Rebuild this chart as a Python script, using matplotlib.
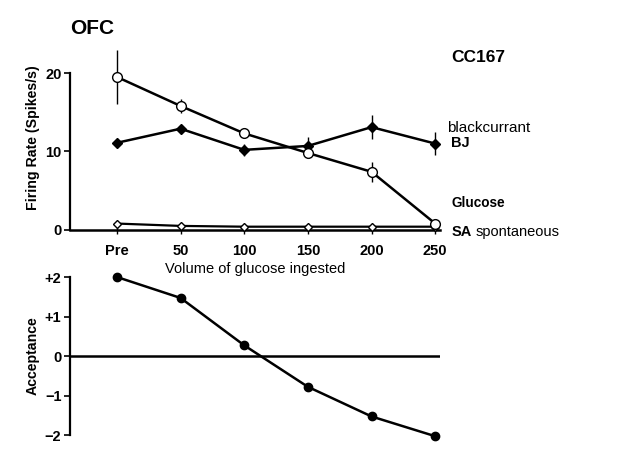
import numpy as np
import matplotlib.pyplot as plt

plt.rcParams['font.family'] = ['Liberation Sans', 'DejaVu Sans']

# data
volumes = ['Pre', '50', '100', '150', '200', '250']
glucose = [19.5, 15.8, 12.3, 9.8, 7.4, 0.8]
glucose_err = [3.4, 0.9, 0.5, 0.6, 1.3, 0.6]
bj = [11.1, 12.9, 10.2, 10.7, 13.1, 11.0]
bj_err = [0.5, 0.5, 0.8, 1.2, 1.5, 1.5]
spont = [0.8, 0.5, 0.4, 0.4, 0.4, 0.4]
acceptance = [2.0, 1.47, 0.27, -0.78, -1.53, -2.03]

x = np.arange(len(volumes))

fig = plt.figure(figsize=(6.29, 4.70), dpi=100)

# top panel: firing rate
ax1 = fig.add_axes([0.111, 0.511, 0.589, 0.392])
ax1.plot(x, spont, color='k', lw=1.6, marker='D', ms=4.5, mfc='white', mec='k', mew=1.0, zorder=3, clip_on=False)
ax1.errorbar(x, bj, yerr=bj_err, color='k', lw=1.8, marker='D', ms=5.5, mfc='k', mec='k',
             elinewidth=1.0, capsize=0, zorder=4, clip_on=False)
ax1.errorbar(x, glucose, yerr=glucose_err, color='k', lw=1.8, marker='o', ms=7, mfc='white', mec='k',
             mew=1.0, elinewidth=1.0, capsize=0, zorder=5, clip_on=False)

ax1.set_xlim(-0.74, 5.08)
ax1.set_ylim(0, 23.5)
ax1.spines['top'].set_visible(False)
ax1.spines['right'].set_visible(False)
ax1.spines['left'].set_bounds(0, 20)
ax1.spines['left'].set_linewidth(1.6)
ax1.spines['bottom'].set_linewidth(1.8)
ax1.set_yticks([0, 10, 20])
ax1.set_xticks(x)
ax1.set_xticklabels(volumes)
ax1.tick_params(axis='y', direction='out', length=4, width=1.2, labelsize=10.5, pad=2)
ax1.tick_params(axis='x', direction='inout', length=6, width=1.0, labelsize=10.5, pad=7)
for lab in ax1.get_xticklabels() + ax1.get_yticklabels():
    lab.set_fontweight('bold')
ax1.set_ylabel('Firing Rate (Spikes/s)', fontsize=10.2, fontweight='bold', labelpad=4)
ax1.set_xlabel('Volume of glucose ingested', fontsize=10.5, labelpad=3)

ax1.text(5.25, 22.0, 'CC167', fontsize=12.5, fontweight='bold', va='center', clip_on=False)
ax1.text(5.19, 13.0, 'blackcurrant', fontsize=11, va='center', clip_on=False)
ax1.text(5.25, 11.1, 'BJ', fontsize=10.5, fontweight='bold', va='center', clip_on=False)
ax1.text(5.25, 3.4, 'Glucose', fontsize=9.8, fontweight='bold', va='center', clip_on=False)
ax1.text(5.25, -0.25, 'SA', fontsize=10.5, fontweight='bold', va='center', clip_on=False)
ax1.text(5.63, -0.25, 'spontaneous', fontsize=10.5, va='center', clip_on=False)

fig.text(0.111, 0.940, 'OFC', fontsize=15, fontweight='bold', va='center')

# bottom panel: acceptance
ax2 = fig.add_axes([0.111, 0.066, 0.589, 0.353])
ax2.patch.set_visible(False)
ax2.axhline(0, color='k', lw=1.8)
ax2.plot(x, acceptance, color='k', lw=1.8, marker='o', ms=6, mfc='k', mec='k', zorder=4, clip_on=False)
ax2.set_xlim(-0.74, 5.08)
ax2.set_ylim(-2.1, 2.1)
for s in ['top', 'right', 'bottom']:
    ax2.spines[s].set_visible(False)
ax2.spines['left'].set_bounds(-2, 2)
ax2.spines['left'].set_linewidth(1.6)
ax2.set_xticks([])
ax2.set_yticks([2, 1, 0, -1, -2])
ax2.set_yticklabels(['+2', '+1', '0', '\u22121', '\u22122'])
ax2.tick_params(axis='y', direction='out', length=4, width=1.2, labelsize=10.5, pad=2)
for lab in ax2.get_yticklabels():
    lab.set_fontweight('bold')
ax2.set_ylabel('Acceptance', fontsize=10.2, fontweight='bold', labelpad=4)

fig.savefig('out.png', dpi=100)
